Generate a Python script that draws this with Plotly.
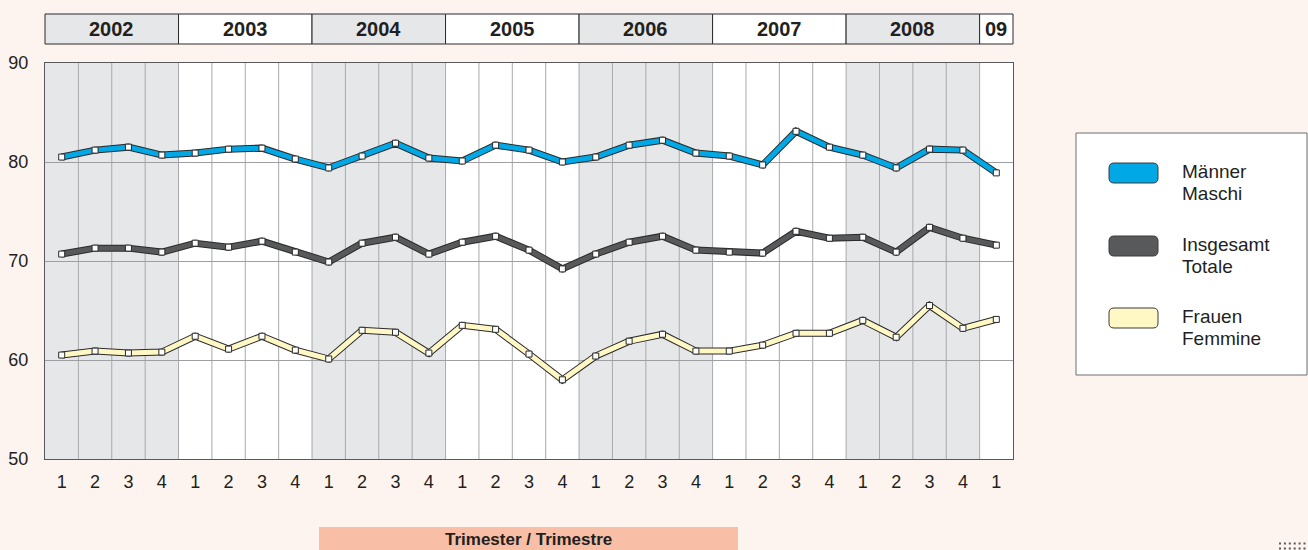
import plotly.graph_objects as go

# ---------------- data ----------------
years = ["2002", "2003", "2004", "2005", "2006", "2007", "2008", "09"]
quarters_per_year = [4, 4, 4, 4, 4, 4, 4, 1]
quarters = ["1", "2", "3", "4"] * 7 + ["1"]

maenner = [80.5, 81.2, 81.5, 80.7, 80.9, 81.3, 81.4, 80.3,
           79.4, 80.6, 81.9, 80.4, 80.1, 81.7, 81.2, 80.0,
           80.5, 81.7, 82.2, 80.9, 80.6, 79.7, 83.1, 81.5,
           80.7, 79.4, 81.3, 81.2, 78.9]
insgesamt = [70.7, 71.3, 71.3, 70.9, 71.8, 71.4, 72.0, 70.9,
             69.9, 71.8, 72.4, 70.7, 71.9, 72.5, 71.1, 69.2,
             70.7, 71.9, 72.5, 71.1, 70.9, 70.8, 73.0, 72.3,
             72.4, 70.9, 73.4, 72.3, 71.6]
frauen = [60.5, 60.9, 60.7, 60.8, 62.4, 61.1, 62.4, 61.0,
          60.1, 63.0, 62.8, 60.7, 63.5, 63.1, 60.6, 58.0,
          60.4, 61.9, 62.6, 60.9, 60.9, 61.5, 62.7, 62.7,
          64.0, 62.3, 65.5, 63.2, 64.1]

series_names = [("Männer", "Maschi"), ("Insgesamt", "Totale"), ("Frauen", "Femmine")]
series_colors = ["#00A8E6", "#58595B", "#FFF8C4"]
series_values = [maenner, insgesamt, frauen]

y_ticks = [50, 60, 70, 80, 90]

# ---------------- style ----------------
BG = "#FEF4EF"
GRAYCOL = "#E6E7E9"
TXT = "#231F20"
EDGE = "#2A2A2A"
FONT = "Liberation Sans, Arial, sans-serif"

W, H = 1308, 550
ML, MR, MT, MB = 45, 295, 63, 91
PW, PH = W - ML - MR, H - MT - MB


def X(px):
    return (px - ML) / PW


def Y(py):
    return (H - MB - py) / PH


n = len(quarters)
xs = list(range(n))


def xpaper(xd):
    return (xd + 0.5) / n


fig = go.Figure()

for vals, col in zip(series_values, series_colors):
    fig.add_trace(go.Scatter(x=xs, y=vals, mode="lines",
                             line=dict(color=EDGE, width=7),
                             hoverinfo="skip", showlegend=False))
    fig.add_trace(go.Scatter(x=xs, y=vals, mode="lines+markers",
                             line=dict(color=col, width=5),
                             marker=dict(symbol="square", size=6, color="white",
                                         line=dict(color=EDGE, width=1)),
                             showlegend=False))

shapes = []
annotations = []

# column shading and header cells
start = 0
for i, (yr, nq) in enumerate(zip(years, quarters_per_year)):
    x0d, x1d = start - 0.5, start + nq - 0.5
    fill = GRAYCOL if i % 2 == 0 else "white"
    shapes.append(dict(type="rect", xref="x", yref="y", x0=x0d, x1=x1d, y0=50, y1=90,
                       fillcolor=fill, line=dict(width=0), layer="below"))
    shapes.append(dict(type="rect", xref="paper", yref="paper",
                       x0=xpaper(x0d), x1=xpaper(x1d), y0=Y(44), y1=Y(14),
                       fillcolor=fill, line=dict(color=EDGE, width=1)))
    annotations.append(dict(xref="paper", yref="paper", x=(xpaper(x0d) + xpaper(x1d)) / 2,
                            y=Y(29), text="<b>%s</b>" % yr, showarrow=False,
                            xanchor="center", yanchor="middle",
                            font=dict(family=FONT, size=20, color=TXT)))
    start += nq

# vertical grid lines
for k in range(n - 1):
    shapes.append(dict(type="line", xref="x", yref="y", x0=k + 0.5, x1=k + 0.5, y0=50, y1=90,
                       line=dict(color="#A7A9AC", width=1), layer="below"))

# legend
shapes.append(dict(type="rect", xref="paper", yref="paper", x0=X(1076), x1=X(1307),
                   y0=Y(375), y1=Y(133), fillcolor="white",
                   line=dict(color="#6D6E71", width=1)))


def rrect(x0, y0, x1, y1, r):
    p = (f"M {X(x0 + r)},{Y(y0)} L {X(x1 - r)},{Y(y0)} Q {X(x1)},{Y(y0)} {X(x1)},{Y(y0 + r)} "
         f"L {X(x1)},{Y(y1 - r)} Q {X(x1)},{Y(y1)} {X(x1 - r)},{Y(y1)} "
         f"L {X(x0 + r)},{Y(y1)} Q {X(x0)},{Y(y1)} {X(x0)},{Y(y1 - r)} "
         f"L {X(x0)},{Y(y0 + r)} Q {X(x0)},{Y(y0)} {X(x0 + r)},{Y(y0)} Z")
    return p


leg_y = [173, 246, 318]
for (n1, n2), col, cy in zip(series_names, series_colors, leg_y):
    shapes.append(dict(type="path", xref="paper", yref="paper",
                       path=rrect(1109, cy - 10, 1158, cy + 10, 5),
                       fillcolor=col, line=dict(color="#3A3A3A", width=1)))
    for txt, dy in ((n1, -2), (n2, 20)):
        annotations.append(dict(xref="paper", yref="paper", x=X(1180), y=Y(cy + dy),
                                text=txt, showarrow=False, align="left",
                                xanchor="left", yanchor="middle",
                                font=dict(family=FONT, size=19, color=TXT)))

# x-axis title box
shapes.append(dict(type="rect", xref="paper", yref="paper", x0=X(319), x1=X(738),
                   y0=Y(556), y1=Y(527), fillcolor="#F9BEA6", line=dict(width=0)))
annotations.append(dict(xref="paper", yref="paper", x=X(528.5), y=Y(539.5),
                        text="<b>Trimester / Trimestre</b>", showarrow=False,
                        xanchor="center", yanchor="middle",
                        font=dict(family=FONT, size=17, color=TXT)))

# decorative dots bottom right
for r_ in range(2):
    for c_ in range(6):
        cx = 1280 + c_ * 4.9
        cy = 543.5 + r_ * 5
        shapes.append(dict(type="rect", xref="paper", yref="paper",
                           x0=X(cx - 1), x1=X(cx + 1), y0=Y(cy + 1), y1=Y(cy - 1),
                           fillcolor="#58595B", line=dict(width=0)))

fig.update_layout(
    width=W, height=H,
    margin=dict(l=ML, r=MR, t=MT, b=MB, pad=0, autoexpand=False),
    paper_bgcolor=BG, plot_bgcolor="white",
    showlegend=False,
    shapes=shapes, annotations=annotations,
    font=dict(family=FONT, color=TXT),
    xaxis=dict(range=[-0.5, n - 0.5], tickvals=xs, ticktext=quarters, automargin=False,
               showgrid=False, zeroline=False, ticks="outside", ticklen=6,
               tickcolor="rgba(0,0,0,0)", tickfont=dict(family=FONT, size=18, color=TXT),
               showline=True, linecolor="#58595B", linewidth=1, mirror=True, fixedrange=True),
    yaxis=dict(range=[50, 90], tickvals=y_ticks, showgrid=True, gridcolor="#9D9FA2",
               gridwidth=1, zeroline=False, ticks="outside", ticklen=12, automargin=False,
               tickcolor="rgba(0,0,0,0)", tickfont=dict(family=FONT, size=18, color=TXT),
               showline=True, linecolor="#58595B", linewidth=1, mirror=True, fixedrange=True),
)

fig.write_html("out.html", config={"displayModeBar": False},
               post_script="document.body.style.margin='0';")
